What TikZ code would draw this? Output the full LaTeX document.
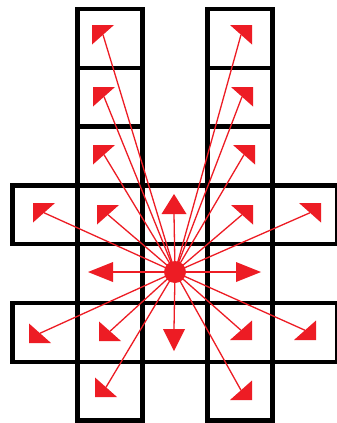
\documentclass[tikz,border=0pt]{standalone}
\definecolor{arrred}{HTML}{ED1C24}
\begin{document}
\begin{tikzpicture}[x=1pt,y=-1pt,
  cellline/.style={draw=black,line width=4.5pt},
  ray/.style={draw=arrred,line width=1.3pt},
  head/.style={fill=arrred,draw=none}]
\clip (0,0) rectangle (337,423);
\fill[white] (0,0) rectangle (337,423);
% grid cells
\foreach \c/\r in {1/0,3/0,1/1,3/1,1/2,3/2,0/3,1/3,2/3,3/3,4/3,1/4,2/4,3/4,0/5,1/5,2/5,3/5,4/5,1/6,3/6}{
  \draw[cellline] ({12.5+65*\c},{9+58.8*\r}) rectangle ({12.5+65*(\c+1)},{9+58.8*(\r+1)});
}
\coordinate (c) at (175,272);
% up-left heads (tip, legs +x,+y)
\foreach \n/\x/\y in {a/92/25,b/93/87,d/93/145,e/33/203,f/97/205}{
  \coordinate (t\n) at ({\x+11},{\y+9.75});
  \draw[ray] (c) -- (t\n);
  \fill[head] (\x,\y) -- ++(22,0) -- ++(-22,19.5) -- cycle;
}
% up-right heads (legs -x,+y)
\foreach \n/\x/\y in {g/252/25,h/253/87,i/255/145,j/253/205,k/321/203}{
  \coordinate (t\n) at ({\x-11},{\y+9.75});
  \draw[ray] (c) -- (t\n);
  \fill[head] (\x,\y) -- ++(-22,0) -- ++(22,19.5) -- cycle;
}
% down-left heads (legs +x,-y)
\foreach \n/\x/\y in {l/29/343,m/99/341,o/95/397}{
  \coordinate (t\n) at ({\x+11},{\y-9.75});
  \draw[ray] (c) -- (t\n);
  \fill[head] (\x,\y) -- ++(22,0) -- ++(-22,-19.5) -- cycle;
}
% down-right heads (legs -x,-y)
\foreach \n/\x/\y in {p/252/340,q/316/340,s/252/400}{
  \coordinate (t\n) at ({\x-11},{\y-9.75});
  \draw[ray] (c) -- (t\n);
  \fill[head] (\x,\y) -- ++(-22,0) -- ++(22,-19.5) -- cycle;
}
% straight arrows
\coordinate (tu) at (174,214);
\coordinate (td) at (174,329);
\coordinate (tl) at (113,272);
\coordinate (tr) at (236,272);
\draw[ray] (c) -- (tu);
\draw[ray] (c) -- (td);
\draw[ray] (c) -- (tl);
\draw[ray] (c) -- (tr);
\fill[head] (174,194) -- (186.5,214) -- (161.5,214) -- cycle;
\fill[head] (174,351) -- (185,329) -- (163,329) -- cycle;
\fill[head] (88,272) -- (113,262) -- (113,282) -- cycle;
\fill[head] (261,272) -- (236,262) -- (236,282) -- cycle;
\node[circle,fill=arrred,inner sep=0pt,minimum size=22pt] (dot) at (c) {};
\end{tikzpicture}
\end{document}
